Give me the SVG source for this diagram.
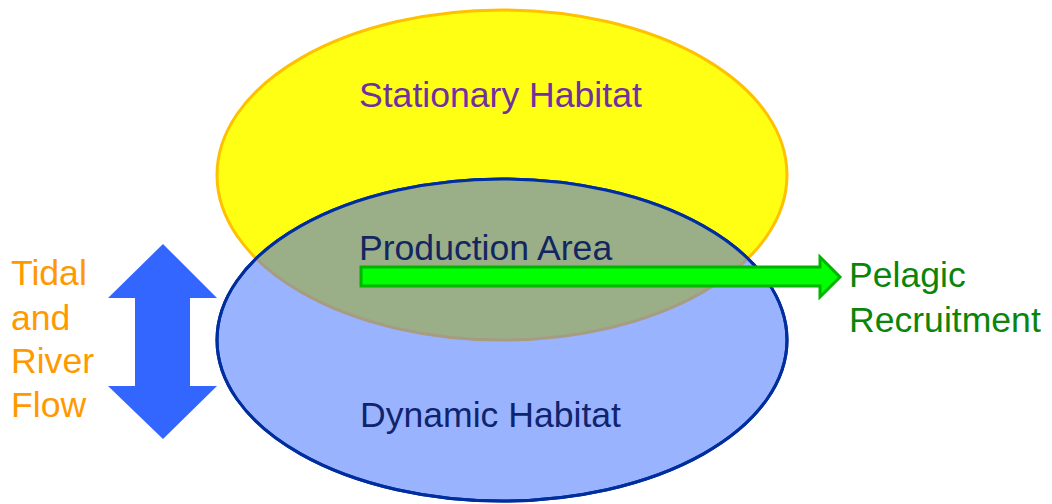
<svg xmlns="http://www.w3.org/2000/svg" width="1052" height="504" viewBox="0 0 1052 504">
  <defs>
    <style>
      .lbl { font-family: "Liberation Sans", Arial, sans-serif; font-size: 35.6px; }
      .stationary { fill: #FFFF14; stroke: #FFC000; stroke-width: 3; }
      .dynamic { fill: #99B3FF; stroke: #002E9E; stroke-width: 3; }
      .overlap { fill: #9AAF88; stroke: #A69C82; stroke-width: 3; }
    </style>
    <clipPath id="dynamicClip">
      <ellipse cx="502" cy="340" rx="285" ry="161"/>
    </clipPath>
  </defs>
  <rect width="1052" height="504" fill="#FFFFFF"/>

  <!-- Upper ellipse -->
  <g id="stationary-habitat">
    <ellipse class="stationary" cx="502" cy="175" rx="285" ry="165"/>
    <text class="lbl" x="359" y="107" fill="#7030A0">Stationary Habitat</text>
  </g>

  <!-- Lower ellipse -->
  <g id="dynamic-habitat">
    <ellipse class="dynamic" cx="502" cy="340" rx="285" ry="161"/>
    <text class="lbl" x="360" y="427" fill="#10246E">Dynamic Habitat</text>
  </g>

  <!-- Intersection of the two ellipses -->
  <g id="production-area">
    <ellipse class="overlap" cx="502" cy="175" rx="285" ry="165" clip-path="url(#dynamicClip)"/>
    <ellipse cx="502" cy="340" rx="285" ry="161" fill="none" stroke="#002E9E" stroke-width="3"/>
    <text class="lbl" x="359" y="260" fill="#142660">Production Area</text>
  </g>

  <g id="tidal-river-flow">
    <text class="lbl" fill="#FF9900">
      <tspan x="11" y="285">Tidal</tspan>
      <tspan x="11" y="330">and</tspan>
      <tspan x="11" y="373">River</tspan>
      <tspan x="11" y="417">Flow</tspan>
    </text>
  </g>

  <g id="pelagic-recruitment">
    <text class="lbl" fill="#0A850A">
      <tspan x="849" y="287">Pelagic</tspan>
      <tspan x="849" y="332">Recruitment</tspan>
    </text>
  </g>

  <g id="connectors">
    <!-- double-headed flow arrow -->
    <polygon fill="#3366FF" points="163,244 217,298 190,298 190,386 217,386 163,439 108,386 135,386 135,298 108,298"/>
    <!-- recruitment arrow -->
    <polygon fill="#00FF00" stroke="#00B400" stroke-width="3" stroke-linejoin="miter"
             points="361,267 820,267 820,257 840,277 820,297 820,286 361,286"/>
  </g>
</svg>
